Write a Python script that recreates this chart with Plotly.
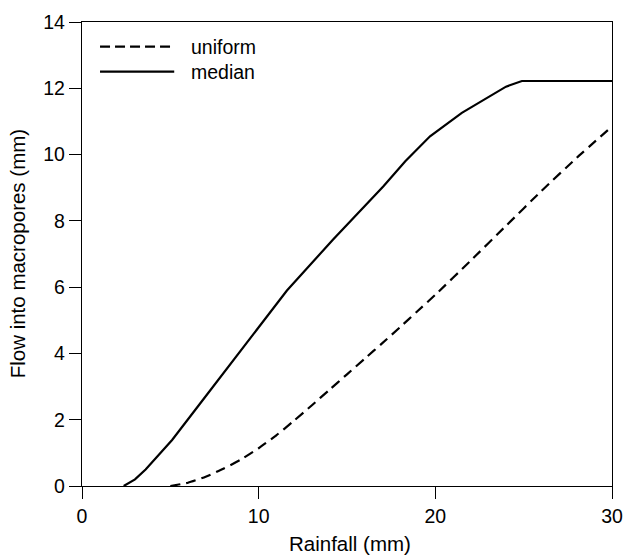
import plotly.graph_objects as go

# Rainfall (mm) vs. flow into macropores (mm)
rain_uniform = [5.0, 6.0, 7.0, 8.0, 9.0, 10.0, 11.0, 12.0, 13.0, 14.0, 15.0, 16.0, 17.0, 18.0,
                19.0, 20.0, 22.0, 24.0, 26.0, 28.0, 30.0]
flow_uniform = [0.0, 0.1, 0.28, 0.52, 0.8, 1.14, 1.53, 1.97, 2.43, 2.9, 3.37, 3.84, 4.31, 4.79,
                5.28, 5.77, 6.8, 7.85, 8.9, 9.9, 10.85]

rain_median = [2.36, 3.0, 3.6, 4.3, 5.1, 6.6, 8.1, 9.8, 11.6, 14.2, 17.05, 18.3, 19.7, 21.5,
               22.8, 24.0, 24.9, 30.0]
flow_median = [0.0, 0.2, 0.5, 0.9, 1.39, 2.43, 3.47, 4.65, 5.9, 7.43, 9.04, 9.8, 10.55, 11.26,
               11.66, 12.05, 12.22, 12.22]

x_ticks = [0, 10, 20, 30]
y_ticks = [0, 2, 4, 6, 8, 10, 12, 14]

FONT = "Liberation Sans, Arial, Helvetica, sans-serif"
FS = 19.5
FS_TITLE = 20.5

fig = go.Figure()
fig.add_trace(go.Scatter(x=rain_uniform, y=flow_uniform, mode="lines", name="uniform",
                         line=dict(color="black", width=2.2, dash="10px,6px", shape="spline", smoothing=0.5)))
fig.add_trace(go.Scatter(x=rain_median, y=flow_median, mode="lines", name="median",
                         line=dict(color="black", width=2.2, shape="linear")))

# Legend drawn as sample lines plus labels
legend_items = [("uniform", "10px,5px", 0.947), ("median", "solid", 0.893)]
for label, dash, yy in legend_items:
    fig.add_shape(type="line", xref="paper", yref="paper", x0=0.034, x1=0.174, y0=yy, y1=yy,
                  line=dict(color="black", width=2.2, dash=dash))
    fig.add_annotation(xref="paper", yref="paper", x=0.202, y=yy, text=label, showarrow=False,
                       xanchor="left", yanchor="middle", font=dict(family=FONT, size=FS, color="black"))

# Axis titles
fig.add_annotation(xref="paper", yref="paper", x=-0.122, y=0.5, text="Flow into macropores (mm)",
                   textangle=-90, showarrow=False, xanchor="center", yanchor="middle",
                   font=dict(family=FONT, size=FS_TITLE, color="black"))
fig.add_annotation(xref="paper", yref="paper", x=0.506, y=-0.151, text="Rainfall (mm)",
                   showarrow=False, xanchor="center", yanchor="bottom", borderpad=0,
                   font=dict(family=FONT, size=FS_TITLE, color="black"))

axis_common = dict(showgrid=False, zeroline=False, showline=True, linecolor="black", linewidth=1.3,
                   ticks="outside", ticklen=12, tickwidth=1.3, tickcolor="black", automargin=False,
                   tickfont=dict(family=FONT, size=FS, color="black"), mirror=True)

fig.update_xaxes(range=[0, 30], tickvals=x_ticks, **axis_common)
fig.update_yaxes(range=[0, 14], tickvals=y_ticks, **axis_common)

fig.update_layout(width=624, height=557, margin=dict(l=82, r=12, t=22, b=71),
                  plot_bgcolor="white", paper_bgcolor="white", showlegend=False,
                  font=dict(family=FONT, color="black"))

fig.write_html("out.html")
